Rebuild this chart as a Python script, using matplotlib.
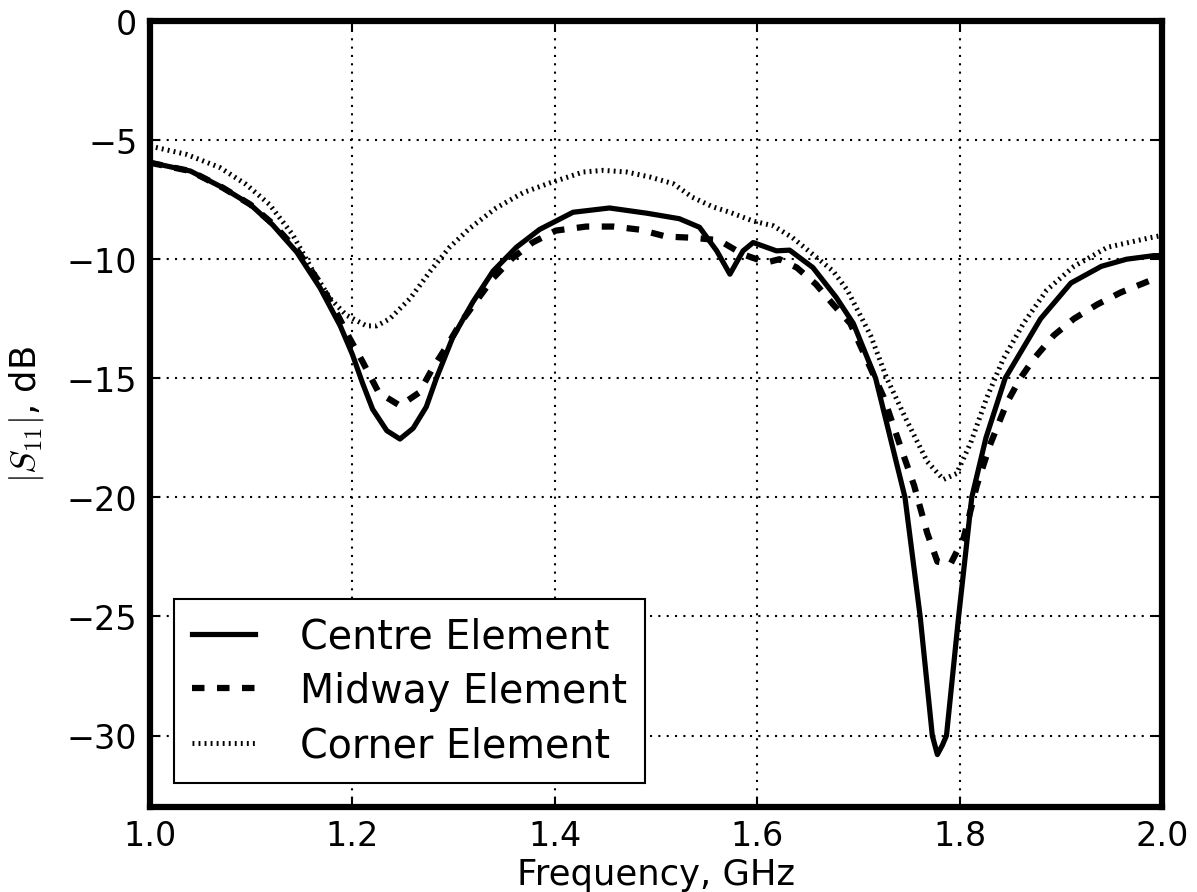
import numpy as np
import matplotlib
matplotlib.use("Agg")
import matplotlib.pyplot as plt

plt.rcParams['mathtext.fontset'] = 'cm'
plt.rcParams['lines.scale_dashes'] = False

# Centre element
centre_f = [1.0, 1.04, 1.072, 1.099, 1.121, 1.145, 1.168, 1.188, 1.2, 1.21, 1.22, 1.234, 1.247,
            1.26, 1.273, 1.283, 1.299, 1.319, 1.339, 1.362, 1.385, 1.418, 1.454, 1.491,
            1.523, 1.543, 1.56, 1.573, 1.586, 1.596, 1.619, 1.632, 1.655, 1.678, 1.695,
            1.717, 1.746, 1.761, 1.773, 1.778, 1.783, 1.787, 1.799, 1.812, 1.826, 1.845,
            1.88, 1.91, 1.94, 1.965, 1.992, 2.0]
centre_s11 = [-5.94, -6.3, -7.0, -7.7, -8.55, -9.7, -11.2, -12.8, -14.0, -15.2, -16.3, -17.2, -17.55,
              -17.1, -16.2, -15.0, -13.3, -11.8, -10.5, -9.5, -8.75, -8.03, -7.85, -8.07,
              -8.3, -8.66, -9.65, -10.63, -9.65, -9.3, -9.65, -9.62, -10.35, -11.6, -12.7,
              -15.0, -20.0, -25.0, -30.0, -30.8, -30.4, -30.0, -25.0, -20.0, -17.5, -15.0,
              -12.5, -11.0, -10.3, -10.0, -9.85, -9.85]

# Midway element
midway_f = [1.0, 1.04, 1.072, 1.099, 1.121, 1.145, 1.168, 1.185, 1.197, 1.21, 1.226, 1.247,
            1.266, 1.279, 1.294, 1.308, 1.339, 1.358, 1.378, 1.401, 1.431, 1.458, 1.484,
            1.51, 1.536, 1.562, 1.586, 1.609, 1.622, 1.639, 1.658, 1.675, 1.692, 1.725,
            1.741, 1.755, 1.768, 1.778, 1.791, 1.804, 1.817, 1.83, 1.847, 1.86, 1.873,
            1.893, 1.913, 1.936, 1.959, 1.988, 2.0]
midway_s11 = [-5.95, -6.3, -7.0, -7.7, -8.5, -9.6, -11.0, -12.3, -13.3, -14.3, -15.6, -16.15,
              -15.6, -14.6, -13.6, -12.6, -10.8, -9.96, -9.3, -8.8, -8.63, -8.63, -8.76,
              -9.05, -9.1, -9.2, -9.8, -10.14, -10.0, -10.35, -11.05, -11.9, -12.7, -15.8,
              -17.8, -19.5, -21.5, -22.7, -22.8, -21.7, -19.5, -17.8, -16.0, -15.0, -14.2,
              -13.2, -12.5, -11.9, -11.4, -10.9, -10.75]

# Corner element
corner_f = [1.0, 1.036, 1.069, 1.095, 1.118, 1.141, 1.161, 1.178, 1.194, 1.214, 1.224, 1.237,
            1.257, 1.277, 1.296, 1.316, 1.342, 1.369, 1.395, 1.428, 1.448, 1.471, 1.494,
            1.517, 1.536, 1.556, 1.573, 1.596, 1.616, 1.635, 1.655, 1.675, 1.689, 1.712,
            1.728, 1.748, 1.768, 1.784, 1.797, 1.811, 1.827, 1.843, 1.863, 1.886, 1.913,
            1.946, 1.988, 2.0]
corner_s11 = [-5.25, -5.6, -6.15, -6.86, -7.7, -8.97, -10.5, -11.65, -12.35, -12.8, -12.8, -12.5,
              -11.65, -10.5, -9.5, -8.7, -7.85, -7.2, -6.8, -6.34, -6.27, -6.34, -6.55,
              -6.83, -7.4, -7.8, -8.03, -8.4, -8.6, -9.1, -9.8, -10.5, -11.3, -13.2,
              -15.0, -16.8, -18.5, -19.25, -19.0, -17.7, -15.8, -14.2, -12.7, -11.3, -10.3,
              -9.5, -9.1, -9.0]

fig = plt.figure(figsize=(7.98, 5.953), dpi=150)
ax = fig.add_axes([0.1253, 0.0952, 0.9708 - 0.1253, 0.9754 - 0.0952])

ax.plot(centre_f, centre_s11, color='black', lw=2.5, ls='-', label='Centre Element')
ax.plot(midway_f, midway_s11, color='black', lw=3, ls=(0, (6, 6)), label='Midway Element')
ax.plot(corner_f, corner_s11, color='black', lw=2.4, ls=(0, (0.9, 2.0)), label='Corner Element')

ax.set_xlim(1.0, 2.0)
ax.set_ylim(-33, 0)
ax.set_xticks([1.0, 1.2, 1.4, 1.6, 1.8, 2.0])
ax.set_yticks([0, -5, -10, -15, -20, -25, -30])

ax.grid(True, color='black', lw=1, ls=(0, (1, 3)))
for s in ax.spines.values():
    s.set_linewidth(3)
ax.tick_params(direction='in', length=5, width=1, labelsize=16, pad=6,
               top=True, right=True)

ax.set_xlabel('Frequency, GHz', fontsize=17, labelpad=2)
ax.set_ylabel(r'$|S_{11}|$, dB', fontsize=17, labelpad=10)

leg = ax.legend(loc='lower left', fontsize=19, handlelength=1.6, handletextpad=1.15,
                labelspacing=0.36, borderpad=0.45, borderaxespad=0.6, fancybox=False,
                framealpha=1)
leg.get_frame().set_edgecolor('black')
leg.get_frame().set_linewidth(1)

fig.savefig('out.png', dpi=150)
